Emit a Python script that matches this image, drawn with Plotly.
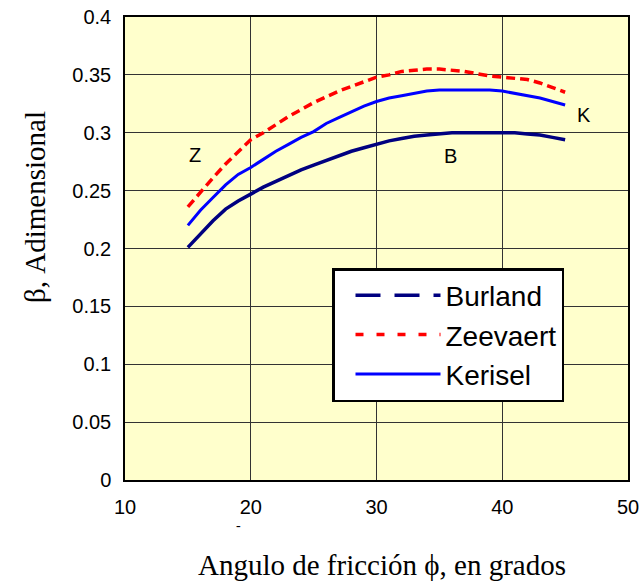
import plotly.graph_objects as go

phi = list(range(15, 46))
burland = [0.201, 0.213, 0.224, 0.234, 0.241, 0.247, 0.253, 0.258, 0.263, 0.268, 0.272,
           0.276, 0.280, 0.284, 0.287, 0.290, 0.293, 0.295, 0.297, 0.298, 0.299, 0.300,
           0.300, 0.300, 0.300, 0.300, 0.300, 0.299, 0.298, 0.296, 0.294]
zeevaert = [0.236, 0.249, 0.261, 0.273, 0.284, 0.294, 0.300, 0.307, 0.314, 0.320, 0.326,
            0.331, 0.336, 0.340, 0.344, 0.348, 0.350, 0.353, 0.354, 0.355, 0.355, 0.354,
            0.353, 0.351, 0.349, 0.348, 0.347, 0.346, 0.343, 0.339, 0.335]
kerisel = [0.220, 0.233, 0.244, 0.255, 0.264, 0.270, 0.277, 0.284, 0.290, 0.296, 0.301,
           0.308, 0.313, 0.318, 0.323, 0.327, 0.330, 0.332, 0.334, 0.336, 0.337, 0.337,
           0.337, 0.337, 0.337, 0.336, 0.334, 0.332, 0.330, 0.327, 0.324]

labels = [("Z", 15.6, 0.281), ("B", 35.9, 0.280), ("K", 46.5, 0.315)]

fig = go.Figure()
# plotted curves
fig.add_trace(go.Scatter(x=phi, y=burland, mode="lines", showlegend=False,
                         line=dict(color="#000080", width=3.5)))
fig.add_trace(go.Scatter(x=phi, y=zeevaert, mode="lines", showlegend=False,
                         line=dict(color="#FF0000", width=3.5, dash="9px,5px")))
fig.add_trace(go.Scatter(x=phi, y=kerisel, mode="lines", showlegend=False,
                         line=dict(color="#0000FF", width=3)))
# legend entries
fig.add_trace(go.Scatter(x=[None], y=[None], mode="lines", name="Burland", legendgroup="a",
                         line=dict(color="#000080", width=3.5, dash="25px,14px")))
fig.add_trace(go.Scatter(x=[None], y=[None], mode="lines", name="Zeevaert", legendgroup="b",
                         line=dict(color="#FF0000", width=3.5, dash="8px,13px")))
fig.add_trace(go.Scatter(x=[None], y=[None], mode="lines", name="Kerisel", legendgroup="c",
                         line=dict(color="#0000FF", width=3)))

for t, x, y in labels:
    fig.add_annotation(x=x, y=y, text=t, showarrow=False,
                       font=dict(family="Liberation Sans, Arial", size=20, color="black"))

W, H = 640, 581
L, R, T, B = 125, 12, 17, 101
pw, ph = W - L - R, H - T - B

def px_x(p):
    return (p - L) / pw

def px_y(p):
    return (H - B - p) / ph

title_font = dict(family="Liberation Serif, Times New Roman", size=29, color="black")
fig.add_annotation(xref="paper", yref="paper", x=px_x(382), y=px_y(565),
                   text="Angulo de fricción ϕ, en grados", showarrow=False,
                   xanchor="center", yanchor="middle", font=title_font)
fig.add_annotation(xref="paper", yref="paper", x=px_x(35), y=px_y(207),
                   text="β, Adimensional", showarrow=False, textangle=-90,
                   xanchor="center", yanchor="middle", font=title_font)
fig.add_annotation(xref="paper", yref="paper", x=px_x(234), y=px_y(535),
                   text="-", showarrow=False,
                   font=dict(family="Liberation Serif", size=14, color="black"))

fig.update_layout(
    width=W, height=H,
    margin=dict(l=L, r=R, t=T, b=B),
    paper_bgcolor="white",
    plot_bgcolor="#FFFFCC",
    font=dict(family="Liberation Sans, Arial", size=20, color="black"),
    legend=dict(x=px_x(332), y=px_y(268), xanchor="left", yanchor="top",
                bgcolor="white", bordercolor="black", borderwidth=2.5,
                font=dict(family="Liberation Sans, Arial", size=28, color="black"),
                itemwidth=85, indentation=16, traceorder="grouped", tracegroupgap=0),
    xaxis=dict(range=[10, 50], dtick=10, showgrid=True, gridcolor="#333333", gridwidth=1,
               showline=True, linecolor="black", linewidth=1.5, mirror=True,
               zeroline=False, ticks="", ticklabelstandoff=8, automargin=False,
               ticklabeloverflow="allow"),
    yaxis=dict(range=[0, 0.4], dtick=0.05, showgrid=True, gridcolor="#333333", gridwidth=1,
               showline=True, linecolor="black", linewidth=1.5, mirror=True,
               zeroline=False, ticks="", ticklabelstandoff=8, automargin=False,
               ticklabeloverflow="allow"),
)

fig.write_html("out.html", config={"displayModeBar": False},
               post_script="document.body.style.margin='0px';document.body.style.overflow='hidden';")
